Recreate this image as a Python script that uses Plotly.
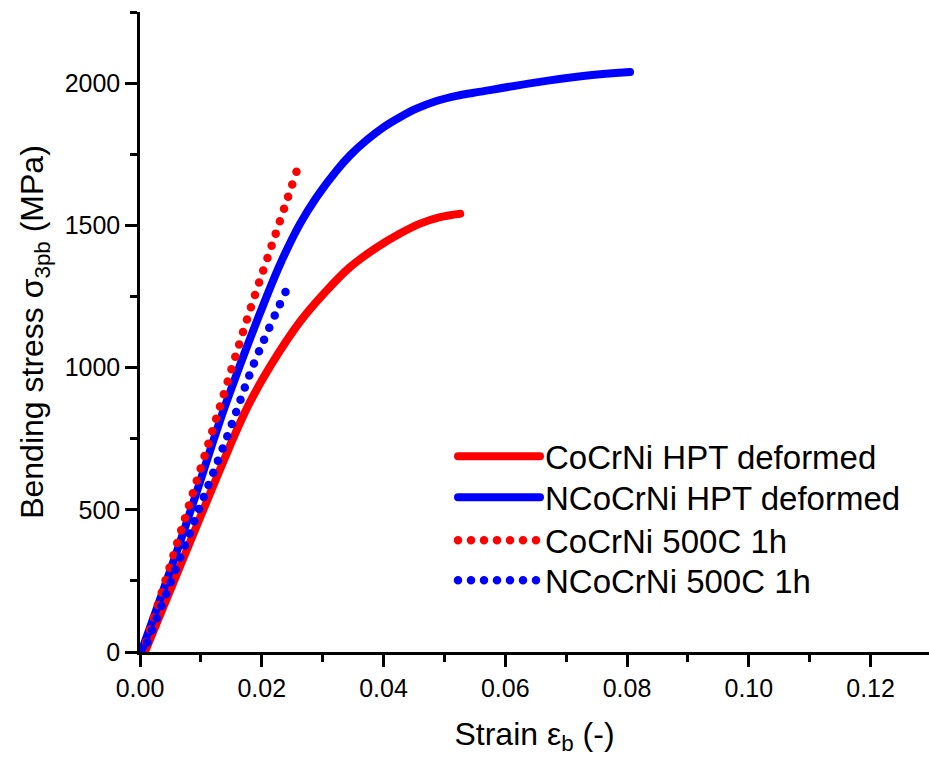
import plotly.graph_objects as go

# CoCrNi HPT deformed (solid red)
cocrni_hpt_strain = [0.0008, 0.0104, 0.0159, 0.0181, 0.0214, 0.0263, 0.0304, 0.0345, 0.0386, 0.0427, 0.0460, 0.0493, 0.0526]
cocrni_hpt_stress = [0, 500, 780, 880, 1005, 1162, 1265, 1353, 1418, 1471, 1506, 1529, 1541]

# NCoCrNi HPT deformed (solid blue)
ncocrni_hpt_strain = [0.0002, 0.0068, 0.0126, 0.0143, 0.0208, 0.0233, 0.0263, 0.0290, 0.0323, 0.0345, 0.0372, 0.0400, 0.0427, 0.0454, 0.0487, 0.0520, 0.0560, 0.0646, 0.0728, 0.0805]
ncocrni_hpt_stress = [0, 400, 779, 885, 1250, 1377, 1506, 1599, 1693, 1746, 1799, 1845, 1880, 1910, 1937, 1955, 1970, 2001, 2025, 2039]

# CoCrNi 500C 1h (dotted red)
cocrni_500_strain = [0.0005, 0.0120, 0.0181, 0.0222, 0.0257]
cocrni_500_stress = [0, 785, 1204, 1465, 1688]

# NCoCrNi 500C 1h (dotted blue)
ncocrni_500_strain = [0.0006, 0.0082, 0.0147, 0.0186, 0.0239]
ncocrni_500_stress = [0, 420, 779, 1008, 1266]

x_ticks = [0.00, 0.02, 0.04, 0.06, 0.08, 0.10, 0.12]
x_tick_labels = ["0.00", "0.02", "0.04", "0.06", "0.08", "0.10", "0.12"]
y_ticks = [0, 500, 1000, 1500, 2000]
y_tick_labels = ["0", "500", "1000", "1500", "2000"]

series_names = ["CoCrNi HPT deformed", "NCoCrNi HPT deformed", "CoCrNi 500C 1h", "NCoCrNi 500C 1h"]

RED = "#FF0000"
BLUE = "#0000FF"
FONT = "Arial, Liberation Sans, sans-serif"

fig = go.Figure()
fig.add_trace(go.Scatter(x=cocrni_hpt_strain, y=cocrni_hpt_stress, mode="lines",
                         line=dict(color=RED, width=8, shape="spline"),
                         name=series_names[0], legend="legend"))
fig.add_trace(go.Scatter(x=ncocrni_hpt_strain, y=ncocrni_hpt_stress, mode="lines",
                         line=dict(color=BLUE, width=8, shape="spline"),
                         name=series_names[1], legend="legend2"))
# dotted series drawn from their upper end so a dot lands on the end point
fig.add_trace(go.Scatter(x=cocrni_500_strain[::-1], y=cocrni_500_stress[::-1], mode="lines",
                         line=dict(color=RED, width=8.5, shape="spline", dash="0px,13px"),
                         name=series_names[2], legend="legend3"))
fig.add_trace(go.Scatter(x=ncocrni_500_strain[::-1], y=ncocrni_500_stress[::-1], mode="lines",
                         line=dict(color=BLUE, width=8.5, shape="spline", dash="0px,13px"),
                         name=series_names[3], legend="legend4"))

axis_common = dict(
    showline=True, linecolor="black", linewidth=2.5, mirror=False,
    ticks="outside", ticklen=12, tickwidth=2.5, tickcolor="black",
    showgrid=False, zeroline=False,
    tickfont=dict(family=FONT, size=25, color="black"),
)

fig.update_xaxes(
    range=[0, 0.1296], tickvals=x_ticks, ticktext=x_tick_labels,
    minor=dict(dtick=0.01, ticks="outside", ticklen=7, tickwidth=2.5, tickcolor="black", showgrid=False),
    title=dict(text="Strain ε<sub>b</sub> (-)", font=dict(family=FONT, size=32, color="black"), standoff=22),
    **axis_common,
)
fig.update_yaxes(
    range=[0, 2250], tickvals=y_ticks, ticktext=y_tick_labels,
    minor=dict(dtick=250, ticks="outside", ticklen=7, tickwidth=2.5, tickcolor="black", showgrid=False),
    title=dict(text="Bending stress σ<sub>3pb</sub> (MPa)", font=dict(family=FONT, size=32, color="black"), standoff=12),
    **axis_common,
)

legend_ys = [0.3496, 0.2856, 0.2184, 0.1559]
legend_common = dict(x=0.3967, xanchor="left", yanchor="top",
                     font=dict(family=FONT, size=33, color="black"),
                     bgcolor="rgba(0,0,0,0)", itemwidth=82)

fig.update_layout(
    width=929, height=762,
    margin=dict(l=140, r=0, t=12, b=110),
    plot_bgcolor="white", paper_bgcolor="white",
    font=dict(family=FONT, color="black"),
    legend=dict(y=legend_ys[0], **legend_common),
    legend2=dict(y=legend_ys[1], **legend_common),
    legend3=dict(y=legend_ys[2], **legend_common),
    legend4=dict(y=legend_ys[3], **legend_common),
    showlegend=True,
)

post = """
document.body.style.margin = '0';
document.body.style.padding = '0';
function roundCaps(){
  var gd = document.getElementById('{plot_id}');
  gd.querySelectorAll('path.js-line, path.legendlines, .legendlines path').forEach(function(p){
    p.style.strokeLinecap = 'round';
  });
}
roundCaps();
var gd0 = document.getElementById('{plot_id}');
if (gd0.on) { gd0.on('plotly_afterplot', roundCaps); }
"""

fig.write_html("out.html", post_script=post, config={"responsive": False, "displayModeBar": False})
